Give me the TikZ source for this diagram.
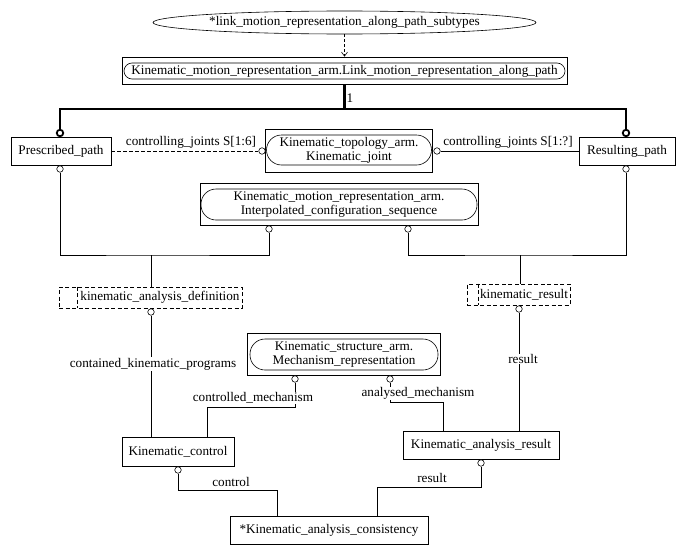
\documentclass[tikz,border=0pt]{standalone}
\usepackage{fontspec}
\setmainfont{Liberation Serif}
\usetikzlibrary{arrows.meta,shapes.geometric}
\begin{document}
\begin{tikzpicture}[x=1pt,y=-1pt,
  every node/.style={font=\fontsize{13.2}{14}\selectfont, inner sep=0pt},
  ent/.style={draw, rectangle, line width=0.8pt},
  innerbox/.style={draw, line width=0.6pt, align=center},
  sel/.style={draw, line width=0.7pt, dash pattern=on 4pt off 2.5pt},
  port/.style={circle, draw, fill=white, minimum size=6.5pt, line width=0.6pt},
  tport/.style={circle, draw, fill=white, minimum size=6.5pt, line width=1.8pt},
  conn/.style={line width=0.7pt},
  thickc/.style={line width=2.4pt},
  lab/.style={fill=white, inner sep=0.6pt}
]
\fill[white] (0,0) rectangle (684,554);
\useasboundingbox (0,0) rectangle (684,554);

% top ellipse and supertype box
\node[draw, ellipse, minimum width=383pt, minimum height=23pt, line width=0.6pt] (sub) at (344.5,22.5) {*link\_motion\_representation\_along\_path\_subtypes};
\node[ent, minimum width=445pt, minimum height=27pt] (b1) at (344.5,70.5) {};
\node[innerbox, rounded corners=8pt, minimum width=441pt, minimum height=16pt] (b1t) at (344.5,71) {Kinematic\_motion\_representation\_arm.Link\_motion\_representation\_along\_path};
\draw[line width=0.6pt, dash pattern=on 3pt off 2pt, -{Straight Barb[length=4pt,width=6pt]}] (sub.south) -- (b1.north);

% entities
\node[ent, minimum width=100pt, minimum height=28pt] (pp) at (61,151) {Prescribed\_path};
\node[ent, minimum width=96pt, minimum height=28pt] (rp) at (627,151) {Resulting\_path};

\node[ent, minimum width=167pt, minimum height=43pt] (kj) at (348.5,150.5) {};
\node[innerbox, rounded corners=15pt, minimum width=165pt, minimum height=30pt] (kjt) at (349,150) {Kinematic\_topology\_arm.\\Kinematic\_joint};

\node[ent, minimum width=278pt, minimum height=42pt] (ics) at (339,204) {};
\node[innerbox, rounded corners=15pt, minimum width=276pt, minimum height=31pt] (icst) at (339,204.5) {Kinematic\_motion\_representation\_arm.\\Interpolated\_configuration\_sequence};

\node[sel, minimum width=183pt, minimum height=21pt] (kad) at (150.5,297.5) {};
\draw[sel] ([xshift=19pt]kad.north west) -- ([xshift=19pt]kad.south west);
\node (kadt) at (160,297.5) {kinematic\_analysis\_definition};

\node[sel, minimum width=103pt, minimum height=21pt] (kr) at (518.5,294.5) {};
\draw[sel] ([xshift=12pt]kr.north west) -- ([xshift=12pt]kr.south west);
\node (krt) at (524,295) {kinematic\_result};

\node[ent, minimum width=193pt, minimum height=42pt] (mr) at (343.5,354) {};
\node[innerbox, rounded corners=15pt, minimum width=188pt, minimum height=31pt] (mrt) at (344,354.5) {Kinematic\_structure\_arm.\\Mechanism\_representation};

\node[ent, minimum width=112pt, minimum height=29pt] (kc) at (178,451.5) {Kinematic\_control};
\node[ent, minimum width=156pt, minimum height=28pt] (kar) at (481,445) {Kinematic\_analysis\_result};
\node[ent, minimum width=198pt, minimum height=28pt] (kac) at (329,530) {*Kinematic\_analysis\_consistency};

% thick supertype tree
\coordinate (j) at (344.5,109);
\node[tport] (pt1) at (60,133) {};
\node[tport] (pt2) at (626,133) {};
\draw[thickc] (b1.south) -- (j);
\draw[thickc] (j) -| (pt1.north);
\draw[thickc] (j) -| (pt2.north);
\node (one) at (350,98) {1};

% controlling joints
\node[port] (kjl) at (262,151) {};
\node[port] (kjr) at (437,151) {};
\draw[conn, dash pattern=on 3.5pt off 2.5pt] (pp.east) -- (kjl.west);
\draw[conn] (kjr.east) -- (rp.west);
\node (l1) at (191,142) {controlling\_joints S[1:6]};
\node (l2) at (508,142) {controlling\_joints S[1:?]};

% select trees
\node[port] (ppb) at (60,169) {};
\node[port] (rpb) at (626,169) {};
\node[port] (icsl) at (269,229) {};
\node[port] (icsr) at (408,229) {};
\coordinate (ja) at (151,255);
\coordinate (jb) at (520,255);
\draw[conn] (ppb.south) |- (ja) -| (icsl.south);
\draw[conn] (ja) -- (ja |- kad.north);
\draw[conn] (rpb.south) |- (jb) -| (icsr.south);
\draw[conn] (jb) -- (jb |- kr.north);

% lower attributes
\node[port] (kadb) at (151,312) {};
\node[port] (krb) at (519,309) {};
\node[port] (mrl) at (295,379) {};
\node[port] (mrr) at (390,379) {};
\node[port] (kcb) at (178,470) {};
\node[port] (karb) at (481,463) {};

\draw[conn] (kadb.south) -- (kadb.south |- kc.north);
\draw[conn] (krb.south) -- (krb.south |- kar.north);
\coordinate (c1) at (207,407);
\draw[conn] (mrl.south) |- (c1) -- (c1 |- kc.north);
\coordinate (c2) at (443,402);
\draw[conn] (mrr.south) |- (c2) -- (c2 |- kar.north);
\coordinate (c3) at (277,490);
\draw[conn] (kcb.south) |- (c3) -- (c3 |- kac.north);
\coordinate (c4) at (377,487);
\draw[conn] (karb.south) |- (c4) -- (c4 |- kac.north);

\node[lab] (l3) at (153,364) {contained\_kinematic\_programs};
\node[lab] (l4) at (523,359) {result};
\node[lab] (l5) at (253,398) {controlled\_mechanism};
\node[lab] (l6) at (418,393.5) {analysed\_mechanism};
\node (l7) at (231,482) {control};
\node (l8) at (432,478) {result};
\end{tikzpicture}
\end{document}
